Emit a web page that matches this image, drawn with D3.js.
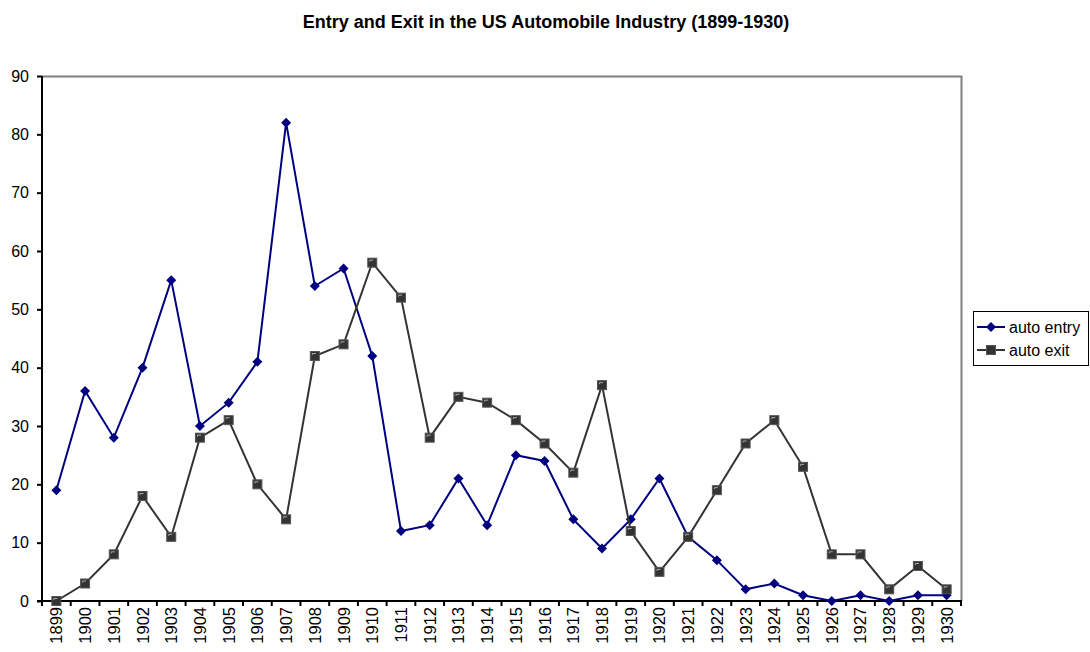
<!DOCTYPE html>
<html><head><meta charset="utf-8">
<script src="https://cdn.jsdelivr.net/npm/d3@7"></script>
<style>body{margin:0;background:#fff;} svg{font-family:"Liberation Sans",Arial,sans-serif;}</style>
</head><body>
<svg id="c" width="1090" height="652"></svg>
<script>
const years = ["1899","1900","1901","1902","1903","1904","1905","1906","1907","1908","1909","1910","1911","1912","1913","1914","1915","1916","1917","1918","1919","1920","1921","1922","1923","1924","1925","1926","1927","1928","1929","1930"];
const autoEntry = [19,36,28,40,55,30,34,41,82,54,57,42,12,13,21,13,25,24,14,9,14,21,11,7,2,3,1,0,1,0,1,1];
const autoExit = [0,3,8,18,11,28,31,20,14,42,44,58,52,28,35,34,31,27,22,37,12,5,11,19,27,31,23,8,8,2,6,2];
const yTicks = [0,10,20,30,40,50,60,70,80,90];

const svg = d3.select("#c");
const L = 42, R = 961, T = 76, B = 601;
const x = d3.scaleBand().domain(years).range([L, R]);
const y = d3.scaleLinear().domain([0, 90]).range([B, T]);
const cx = d => x(d) + x.bandwidth()/2;

svg.append("text").attr("x", 546).attr("y", 28).attr("text-anchor","middle")
  .attr("font-size", 18).attr("font-weight","bold").text("Entry and Exit in the US Automobile Industry (1899-1930)");

// plot border (top/right grey)
svg.append("path").attr("d", `M${L},${T+0.5}H${R+0.5}V${B}`).attr("fill","none").attr("stroke","#808080").attr("stroke-width",2);

// y axis
const ya = svg.append("g").attr("transform", `translate(${L},0)`)
  .call(d3.axisLeft(y).tickValues(yTicks).tickSize(5).tickPadding(8));
ya.select(".domain").attr("stroke","#000").attr("stroke-width",2).attr("d", `M0,${B}V${T}`);
ya.selectAll(".tick line").attr("stroke","#000").attr("stroke-width",2);
ya.selectAll("text").attr("font-size",16).attr("fill","#000").attr("font-family","Liberation Sans, Arial, sans-serif");

// x axis
const xa = svg.append("g").attr("transform", `translate(0,${B})`);
xa.append("line").attr("x1", L-5).attr("x2", R+1).attr("y1",0).attr("y2",0).attr("stroke","#000").attr("stroke-width",2);
const bounds = years.map(d => x(d)).concat([R]);
xa.selectAll("line.t").data(bounds).join("line").attr("class","t")
  .attr("x1", d=>d).attr("x2", d=>d).attr("y1",0).attr("y2",5).attr("stroke","#000").attr("stroke-width",2);
xa.selectAll("text").data(years).join("text")
  .attr("transform", d => `translate(${cx(d)+6},6) rotate(-90)`)
  .attr("text-anchor","end").attr("font-size",16.5).text(d=>d);

// entry series
const line = d3.line().x((d,i)=>cx(years[i])).y(d=>y(d));
svg.append("path").datum(autoEntry).attr("d", line).attr("fill","none").attr("stroke","#000080").attr("stroke-width",2);
svg.selectAll("path.dia").data(autoEntry).join("path").attr("class","dia")
  .attr("transform",(d,i)=>`translate(${cx(years[i])},${y(d)})`)
  .attr("d","M0,-5L5,0L0,5L-5,0Z").attr("fill","#000080");

// exit series
svg.append("path").datum(autoExit).attr("d", line).attr("fill","none").attr("stroke","#333333").attr("stroke-width",2);
const sq = svg.selectAll("g.sq").data(autoExit).join("g").attr("class","sq")
  .attr("transform",(d,i)=>`translate(${cx(years[i])},${y(d)})`);
sq.append("rect").attr("x",-4.5).attr("y",-4.5).attr("width",9).attr("height",9).attr("fill","#333333").attr("stroke","#555").attr("stroke-width",1);
sq.append("path").attr("d","M-2.5,-1V-2.5H1").attr("fill","none").attr("stroke","#aaa").attr("stroke-width",1);

// legend
const lg = svg.append("g");
lg.append("rect").attr("x",973.5).attr("y",311.5).attr("width",115).attr("height",54).attr("fill","#fff").attr("stroke","#000").attr("stroke-width",1);
lg.append("line").attr("x1",977).attr("x2",1005).attr("y1",327).attr("y2",327).attr("stroke","#000080").attr("stroke-width",2);
lg.append("path").attr("transform","translate(991,327)").attr("d","M0,-5L5,0L0,5L-5,0Z").attr("fill","#000080");
lg.append("text").attr("x",1009).attr("y",333).attr("font-size",16).text("auto entry");
lg.append("line").attr("x1",977).attr("x2",1005).attr("y1",350).attr("y2",350).attr("stroke","#333").attr("stroke-width",2);
lg.append("rect").attr("x",986.5).attr("y",345.5).attr("width",9).attr("height",9).attr("fill","#333").attr("stroke","#555");
lg.append("text").attr("x",1009).attr("y",356).attr("font-size",16).text("auto exit");
</script>
</body></html>
